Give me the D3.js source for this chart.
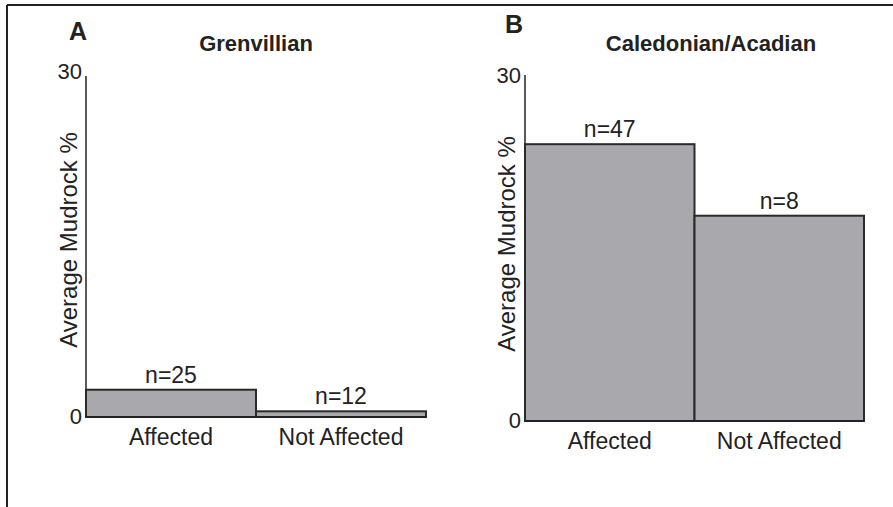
<!DOCTYPE html>
<html>
<head>
<meta charset="utf-8">
<script src="https://cdnjs.cloudflare.com/ajax/libs/d3/7.8.5/d3.min.js"></script>
<style>
  body { margin: 0; background: #fff; }
  text { font-family: "Liberation Sans", Arial, sans-serif; fill: #222; }
</style>
</head>
<body>
<svg id="chart" width="893" height="507"></svg>
<script>
// data
var categories = ["Affected", "Not Affected"];
var grenvillianValues = [2.4, 0.5];
var grenvillianN = ["n=25", "n=12"];
var caledonianValues = [24.0, 17.8];
var caledonianN = ["n=47", "n=8"];
var yTicks = [0, 30];

var svg = d3.select("#chart");

// figure frame (top + left only visible)
svg.append("line").attr("x1", 7).attr("x2", 893).attr("y1", 5).attr("y2", 5)
  .attr("stroke", "#222").attr("stroke-width", 2);
svg.append("line").attr("x1", 7).attr("x2", 7).attr("y1", 5).attr("y2", 507)
  .attr("stroke", "#222").attr("stroke-width", 2);

function drawPanel(opts) {
  var x = d3.scaleBand().domain(categories).range([opts.left, opts.right]).padding(0);
  var y = d3.scaleLinear().domain([0, 30]).range([opts.bottom, opts.top]);
  var g = svg.append("g");

  // y axis line
  g.append("line")
    .attr("x1", opts.left).attr("x2", opts.left)
    .attr("y1", y(30)).attr("y2", y(0))
    .attr("stroke", "#222").attr("stroke-width", 1.5);

  g.selectAll(".tick")
    .data(yTicks)
    .enter().append("text")
    .attr("x", opts.left - 4)
    .attr("y", d => y(d) + (d === 0 ? 7 : opts.topTickDy))
    .attr("text-anchor", "end")
    .style("font-size", "22px")
    .text(d => d);

  // bars
  g.selectAll("rect")
    .data(opts.values)
    .enter().append("rect")
    .attr("x", (d, i) => x(categories[i]))
    .attr("y", d => y(d))
    .attr("width", x.bandwidth())
    .attr("height", d => y(0) - y(d))
    .attr("fill", "#a9a8ac")
    .attr("stroke", "#2a2a2a")
    .attr("stroke-width", 2);

  // baseline
  g.append("line")
    .attr("x1", opts.left).attr("x2", opts.right)
    .attr("y1", y(0)).attr("y2", y(0))
    .attr("stroke", "#222").attr("stroke-width", 2);

  // n labels
  g.selectAll(".nlab")
    .data(opts.values)
    .enter().append("text")
    .attr("x", (d, i) => x(categories[i]) + x.bandwidth() / 2)
    .attr("y", d => y(d) - 7)
    .attr("text-anchor", "middle")
    .style("font-size", "23px")
    .text((d, i) => opts.n[i]);

  // category labels
  g.selectAll(".cat")
    .data(categories)
    .enter().append("text")
    .attr("x", d => x(d) + x.bandwidth() / 2)
    .attr("y", y(0) + 28)
    .attr("text-anchor", "middle")
    .style("font-size", "23px")
    .text(d => d);

  // y label
  g.append("text")
    .attr("transform", "translate(" + opts.ylabX + "," + opts.ylabY + ") rotate(-90)")
    .attr("text-anchor", "middle")
    .style("font-size", "24px")
    .text("Average Mudrock %");

  // panel title and letter
  g.append("text")
    .attr("x", opts.titleX).attr("y", 51)
    .attr("text-anchor", "middle")
    .style("font-size", "22px").style("font-weight", "bold")
    .text(opts.title);
  g.append("text")
    .attr("x", opts.letterX).attr("y", opts.letterY)
    .style("font-size", "25px").style("font-weight", "bold")
    .text(opts.letter);
}

drawPanel({
  left: 86, right: 426, top: 76, bottom: 417, topTickDy: 3,
  values: grenvillianValues, n: grenvillianN,
  title: "Grenvillian", titleX: 256,
  letter: "A", letterX: 69, letterY: 40,
  ylabX: 77, ylabY: 240
});

drawPanel({
  left: 525, right: 864, top: 75, bottom: 421, topTickDy: 8,
  values: caledonianValues, n: caledonianN,
  title: "Caledonian/Acadian", titleX: 711,
  letter: "B", letterX: 505, letterY: 33,
  ylabX: 515, ylabY: 244
});
</script>
</body>
</html>
